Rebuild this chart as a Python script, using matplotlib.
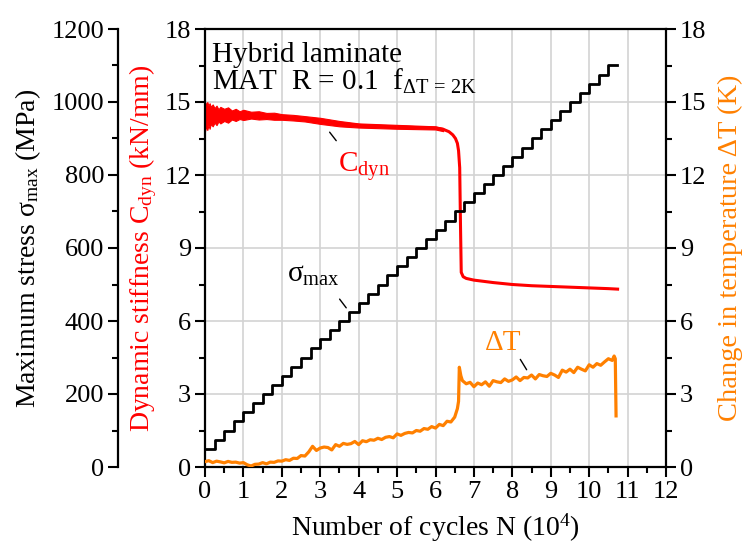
import matplotlib
matplotlib.use('Agg')
import matplotlib.pyplot as plt
from matplotlib.ticker import MultipleLocator

plt.rcParams['font.family'] = ['Liberation Serif', 'DejaVu Serif']
plt.rcParams['mathtext.fontset'] = 'custom'
plt.rcParams['mathtext.rm'] = 'Liberation Serif'
plt.rcParams['mathtext.it'] = 'Liberation Serif:italic'

RED = '#ff0000'
ORANGE = '#ff8000'

# ---------------- data ----------------
# staircase of maximum stress (MPa): level starts (10^4 cycles) and levels
stress_step_N = [0.0, 0.25, 0.5, 0.75, 1.0, 1.25, 1.5, 1.75, 2.0, 2.25, 2.5, 2.75,
                 3.0, 3.25, 3.5, 3.75, 4.0, 4.25, 4.5, 4.75, 5.0, 5.25, 5.5, 5.75,
                 6.0, 6.25, 6.5, 6.75, 7.0, 7.25, 7.5, 7.75, 8.0, 8.25, 8.5, 8.75,
                 9.0, 9.25, 9.5, 9.75, 10.0, 10.25, 10.5]
stress_levels = [50, 75, 100, 125, 150, 175, 200, 225, 250, 275, 300, 325,
                 350, 375, 400, 425, 450, 475, 500, 525, 550, 575, 600, 625,
                 650, 675, 700, 725, 750, 775, 800, 825, 850, 875, 900, 925,
                 950, 975, 1000, 1025, 1050, 1075, 1100]
stress_end_N = 10.73

# dynamic stiffness (kN/mm)
cdyn_N = [0, 0.25, 0.5, 1.0, 1.5, 2.0, 2.5, 3.0, 3.5, 4.0, 4.5, 5.0, 5.5, 6.0,
          6.2, 6.35, 6.45, 6.52, 6.57, 6.6, 6.63, 6.65, 6.67, 6.72, 6.8, 7.0,
          7.5, 8.0, 8.5, 9.0, 9.5, 10.0, 10.5, 10.74]
cdyn_val = [14.45, 14.5, 14.5, 14.48, 14.43, 14.38, 14.32, 14.22, 14.12, 14.04,
            14.0, 13.97, 13.95, 13.93, 13.88, 13.78, 13.65, 13.5, 13.3, 13.0,
            12.3, 10.0, 8.0, 7.82, 7.75, 7.68, 7.58, 7.5, 7.45, 7.42, 7.39,
            7.36, 7.33, 7.31]
# noise envelope of the stiffness signal
cdyn_env_N = [0, 0.03, 0.06, 0.09, 0.12, 0.15, 0.2, 0.25, 0.3, 0.35, 0.4,
              0.5, 0.6, 0.7, 0.8, 0.9, 1.0, 1.2, 1.4, 1.6, 1.8, 2.0,
              2.3, 2.6, 3.0, 3.5, 4.0, 5.0, 6.0, 6.2]
cdyn_env_hi = [15.0, 14.9, 15.0, 14.85, 14.95, 14.8, 14.9, 14.75, 14.85, 14.7, 14.8,
               14.72, 14.78, 14.65, 14.72, 14.62, 14.68, 14.6, 14.62, 14.55, 14.56, 14.5,
               14.47, 14.42, 14.35, 14.22, 14.12, 14.06, 14.0, 13.93]
cdyn_env_lo = [13.8, 14.0, 13.85, 14.05, 13.9, 14.1, 14.0, 14.15, 14.05, 14.2, 14.12,
               14.22, 14.15, 14.28, 14.22, 14.3, 14.26, 14.32, 14.28, 14.3, 14.27, 14.27,
               14.24, 14.2, 14.1, 14.0, 13.95, 13.9, 13.87, 13.8]

# change in temperature (K)
dT_N = [0.0, 0.1, 0.2, 0.3, 0.4, 0.5, 0.6, 0.7, 0.8, 0.9,
        1.0, 1.1, 1.2, 1.3, 1.4, 1.5, 1.6, 1.7, 1.8, 1.9,
        2.0, 2.1, 2.2, 2.3, 2.4, 2.5, 2.6, 2.7, 2.8, 2.9,
        3.0, 3.1, 3.2, 3.3, 3.4, 3.5, 3.6, 3.7, 3.8, 3.9,
        4.0, 4.1, 4.2, 4.3, 4.4, 4.5, 4.6, 4.7, 4.8, 4.9,
        5.0, 5.1, 5.2, 5.3, 5.4, 5.5, 5.6, 5.7, 5.8, 5.9,
        6.0, 6.1, 6.2, 6.3, 6.4, 6.5,
        6.57, 6.6, 6.62, 6.66,
        6.7, 6.8, 6.9, 7.0, 7.1, 7.2, 7.3, 7.4, 7.5, 7.6,
        7.7, 7.8, 7.9, 8.0, 8.1, 8.2, 8.3, 8.4, 8.5, 8.6,
        8.7, 8.8, 8.9, 9.0, 9.1, 9.2, 9.3, 9.4, 9.5, 9.6,
        9.7, 9.8, 9.9, 10.0, 10.1, 10.2, 10.3, 10.4, 10.5, 10.6,
        10.65, 10.68, 10.70]
dT_val = [0.22, 0.26, 0.18, 0.24, 0.21, 0.17, 0.23, 0.19, 0.20, 0.16,
          0.18, 0.09, 0.04, 0.11, 0.12, 0.18, 0.13, 0.20, 0.19, 0.25,
          0.24, 0.30, 0.27, 0.36, 0.35, 0.47, 0.45, 0.62, 0.85, 0.68,
          0.78, 0.82, 0.80, 0.70, 0.92, 0.85, 0.97, 0.93, 0.96, 1.05,
          0.92, 1.08, 1.04, 1.12, 1.10, 1.18, 1.13, 1.22, 1.25, 1.20,
          1.36, 1.30, 1.38, 1.42, 1.40, 1.50, 1.47, 1.58, 1.55, 1.66,
          1.60, 1.75, 1.70, 1.88, 1.85, 2.05,
          2.40, 2.70, 4.10, 3.75,
          3.55, 3.42, 3.48, 3.30, 3.45, 3.38, 3.50, 3.32, 3.55, 3.50,
          3.47, 3.62, 3.52, 3.58, 3.70, 3.55, 3.68, 3.66, 3.78, 3.62,
          3.80, 3.75, 3.72, 3.85, 3.78, 3.68, 3.98, 3.90, 4.02, 3.88,
          4.10, 4.02, 3.95, 4.20, 4.10, 4.25, 4.18, 4.32, 4.45, 4.38,
          4.56, 4.45, 2.10]

x_ticks = list(range(0, 13))
stress_ticks = [0, 200, 400, 600, 800, 1000, 1200]
k_ticks = [0, 3, 6, 9, 12, 15, 18]

# ---------------- figure ----------------
W, H = 742, 547
fig = plt.figure(figsize=(W / 100, H / 100), dpi=100)
ax = fig.add_axes([205 / W, 80 / H, 461 / W, 438 / H])
ax_t = ax.twinx()
ax_s = ax.twinx()

TICK_FS = 19
LAB_FS = 20
TXT_FS = 21

def style_ticks(a, axis):
    a.tick_params(axis=axis, which='major', direction='out', length=7, width=1.5,
                  labelsize=TICK_FS, pad=3)
    a.tick_params(axis=axis, which='minor', direction='out', length=4.5, width=1.5)

# main axis: x and stiffness
ax.set_xlim(0, 12)
ax.set_ylim(0, 18)
ax.set_xticks(x_ticks)
ax.xaxis.set_minor_locator(MultipleLocator(0.5))
ax.set_yticks(k_ticks)
ax.yaxis.set_minor_locator(MultipleLocator(1.5))
style_ticks(ax, 'x')
style_ticks(ax, 'y')
ax.tick_params(axis='x', top=False, which='both')
ax.grid(True, which='major', color='#d3d3d3', lw=1.2)
ax.set_axisbelow(True)
for sp in ['left', 'bottom', 'top']:
    ax.spines[sp].set_linewidth(1.6)
ax.spines['right'].set_visible(False)
ax.set_xlabel('Number of cycles N (10$^{4}$)', fontsize=LAB_FS, labelpad=6)
ax.set_ylabel('Dynamic stiffness C$_{\\rm dyn}$ (kN/mm)', fontsize=LAB_FS, color=RED)
ax.yaxis.set_label_coords(-0.10, 0.5)

# temperature axis (right)
ax_t.set_ylim(0, 18)
ax_t.set_yticks(k_ticks)
ax_t.yaxis.set_minor_locator(MultipleLocator(1.5))
style_ticks(ax_t, 'y')
ax_t.spines['right'].set_linewidth(1.6)
for sp in ['left', 'top', 'bottom']:
    ax_t.spines[sp].set_visible(False)
ax_t.set_ylabel('Change in temperature \u0394T (K)', fontsize=20.5, color=ORANGE)
ax_t.yaxis.set_label_coords(1.113, 0.5)

# stress axis (outer left)
ax_s.set_ylim(0, 1200)
ax_s.set_yticks(stress_ticks)
ax_s.yaxis.set_minor_locator(MultipleLocator(100))
ax_s.yaxis.set_ticks_position('left')
ax_s.yaxis.set_label_position('left')
ax_s.spines['left'].set_position(('outward', 87 * 0.72))
ax_s.spines['left'].set_visible(True)
ax_s.spines['left'].set_linewidth(1.6)
for sp in ['right', 'top', 'bottom']:
    ax_s.spines[sp].set_visible(False)
style_ticks(ax_s, 'y')
ax_s.set_ylabel('Maximum stress \u03c3$_{\\rm max}$ (MPa)', fontsize=LAB_FS)
ax_s.yaxis.set_label_coords(-0.352, 0.5)

# data
ax.fill_between(cdyn_env_N, cdyn_env_lo, cdyn_env_hi, color=RED, lw=0.8)
ax.plot(cdyn_N, cdyn_val, color=RED, lw=2.2, solid_joinstyle='round')
ax_t.plot(dT_N, dT_val, color=ORANGE, lw=2.3)
ax_s.step(stress_step_N + [stress_end_N], stress_levels + [stress_levels[-1]],
          where='post', color='black', lw=2)

# annotations (main-axis data coordinates)
ax.text(0.016, 0.925, 'Hybrid laminate', transform=ax.transAxes, fontsize=TXT_FS,
        va='baseline', ha='left')
ax.text(0.016, 0.861, 'MAT  R = 0.1  f$_{\\rm \u0394T\\,=\\,2K}$', transform=ax.transAxes,
        fontsize=TXT_FS, va='baseline', ha='left')
ax.text(3.46, 12.12, 'C$_{\\rm dyn}$', color=RED, fontsize=TXT_FS, va='baseline')
ax.annotate('', xy=(3.46, 13.32), xytext=(3.20, 13.85),
            arrowprops=dict(arrowstyle='-', color='black', lw=1))
ax.text(2.13, 7.6, '\u03c3$_{\\rm max}$', color='black', fontsize=TXT_FS, va='baseline')
ax.annotate('', xy=(3.72, 6.45), xytext=(3.46, 6.99),
            arrowprops=dict(arrowstyle='-', color='black', lw=1))
ax.text(7.29, 4.81, '\u0394T', color=ORANGE, fontsize=TXT_FS, va='baseline')
ax.annotate('', xy=(8.41, 3.90), xytext=(8.17, 4.52),
            arrowprops=dict(arrowstyle='-', color='black', lw=1))

fig.savefig('out.png', dpi=100)
